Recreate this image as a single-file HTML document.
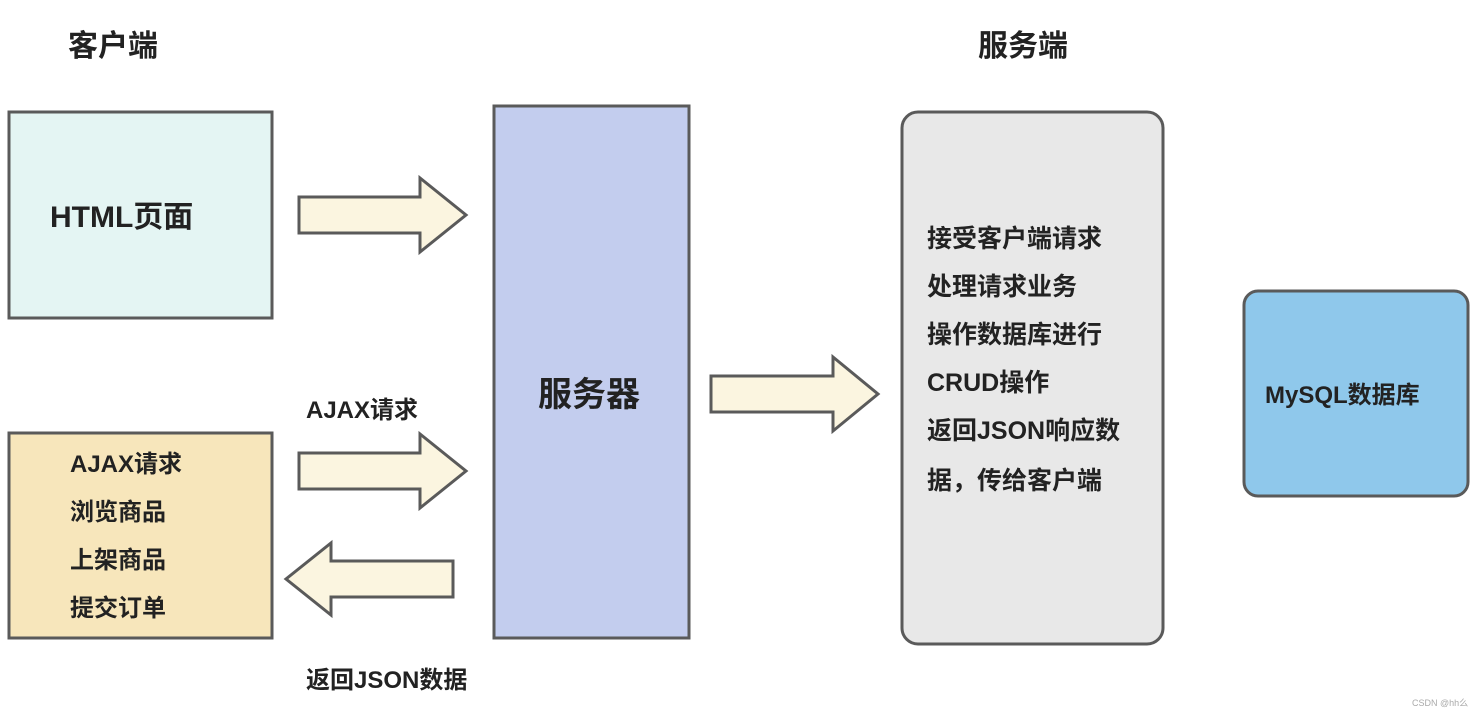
<!DOCTYPE html>
<html><head><meta charset="utf-8"><style>
body{margin:0;background:#fff}
svg text{font-family:"Liberation Sans","Noto Sans CJK SC",sans-serif;font-weight:bold;fill:#222}
</style></head><body>
<svg width="1478" height="716" viewBox="0 0 1478 716" xmlns="http://www.w3.org/2000/svg">
<g stroke="#5a5a5a" stroke-width="3">
<rect x="9" y="112" width="263" height="206" fill="#e4f5f3"/>
<rect x="9" y="433" width="263" height="205" fill="#f7e6bb"/>
<rect x="494" y="106" width="195" height="532" fill="#c3cdee"/>
<rect x="902" y="112" width="261" height="532" rx="16" fill="#e8e8e8"/>
<rect x="1244" y="291" width="224" height="205" rx="14" fill="#8fc8eb"/>
<g fill="#fbf5e0">
<polygon points="299,197 420,197 420,178 466,215 420,252 420,233 299,233"/>
<polygon points="299,453 420,453 420,434 466,471 420,508 420,489 299,489"/>
<polygon points="453,561 331,561 331,543 286,579 331,615 331,597 453,597"/>
<polygon points="711,376 833,376 833,357 878,394 833,431 833,412 711,412"/>
</g></g>
<text x="68" y="56" font-size="30">客户端</text>
<text x="978" y="56" font-size="30">服务端</text>
<text x="50" y="227" font-size="30">HTML页面</text>
<text x="538" y="406" font-size="34">服务器</text>
<text x="306" y="418" font-size="24">AJAX请求</text>
<text x="306" y="688" font-size="24">返回JSON数据</text>
<g font-size="24">
<text x="70" y="472">AJAX请求</text>
<text x="70" y="520">浏览商品</text>
<text x="70" y="568">上架商品</text>
<text x="70" y="616">提交订单</text>
</g>
<g font-size="25">
<text x="927" y="247">接受客户端请求</text>
<text x="927" y="295">处理请求业务</text>
<text x="927" y="343">操作数据库进行</text>
<text x="927" y="391">CRUD操作</text>
<text x="927" y="439">返回JSON响应数</text>
<text x="927" y="489">据，传给客户端</text>
</g>
<text x="1265" y="403" font-size="24">MySQL数据库</text>
<text x="1412" y="706" font-size="9" style="font-weight:normal;fill:#aaa">CSDN @hh么</text>
</svg>
</body></html>
